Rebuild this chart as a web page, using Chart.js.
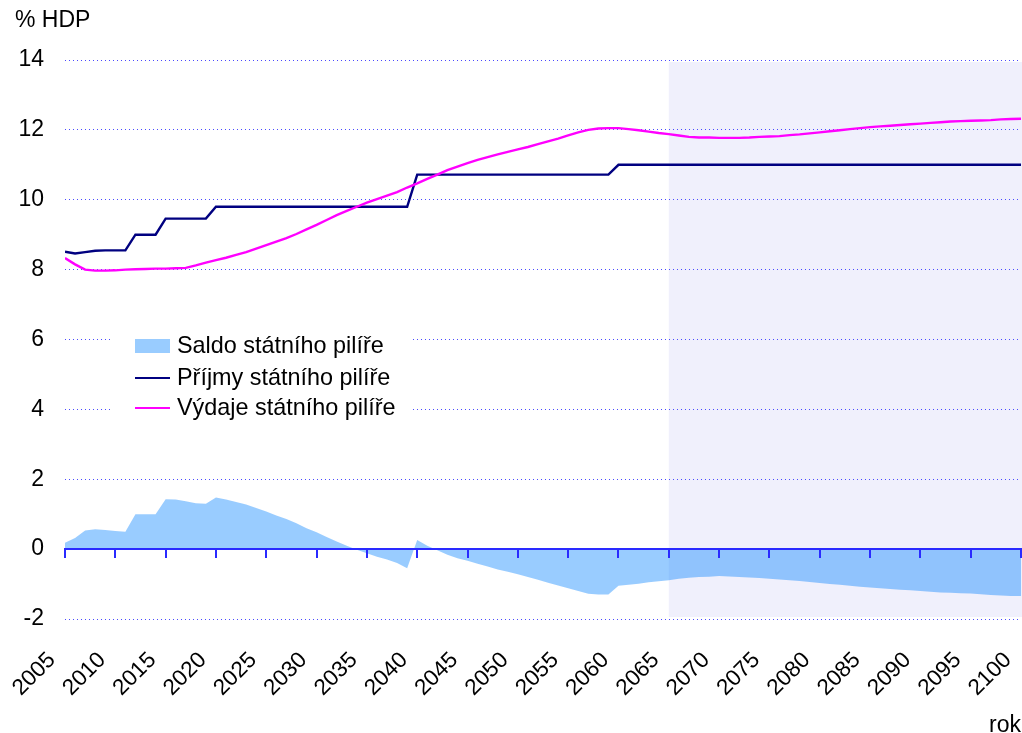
<!DOCTYPE html>
<html><head><meta charset="utf-8">
<script src="https://cdn.jsdelivr.net/npm/chart.js@4.4.0/dist/chart.umd.min.js"></script>
<style>html,body{margin:0;padding:0;background:#fff;overflow:hidden}canvas{display:block}</style>
</head><body>
<canvas id="c" width="1022" height="733"></canvas>
<script>
const years = [2005,2006,2007,2008,2009,2010,2011,2012,2013,2014,2015,2016,2017,2018,2019,2020,2021,2022,2023,2024,
2025,2026,2027,2028,2029,2030,2031,2032,2033,2034,2035,2036,2037,2038,2039,2040,2041,2042,2043,2044,
2045,2046,2047,2048,2049,2050,2051,2052,2053,2054,2055,2056,2057,2058,2059,2060,2061,2062,2063,2064,
2065,2066,2067,2068,2069,2070,2071,2072,2073,2074,2075,2076,2077,2078,2079,2080,2081,2082,2083,2084,
2085,2086,2087,2088,2089,2090,2091,2092,2093,2094,2095,2096,2097,2098,2099,2100];

const saldo = [0.18,0.32,0.53,0.57,0.55,0.52,0.5,1.0,1.0,1.0,
1.43,1.42,1.37,1.31,1.3,1.48,1.42,1.35,1.28,1.18,
1.08,0.96,0.86,0.74,0.6,0.48,0.35,0.22,0.1,-0.02,
-0.12,-0.22,-0.3,-0.4,-0.55,0.26,0.1,-0.03,-0.16,-0.26,
-0.33,-0.42,-0.5,-0.58,-0.65,-0.72,-0.8,-0.88,-0.96,-1.04,
-1.12,-1.2,-1.28,-1.3,-1.3,-1.05,-1.02,-0.99,-0.95,-0.92,
-0.89,-0.85,-0.82,-0.8,-0.79,-0.77,-0.78,-0.8,-0.81,-0.83,
-0.85,-0.87,-0.89,-0.91,-0.94,-0.97,-1.0,-1.02,-1.05,-1.08,
-1.1,-1.12,-1.14,-1.16,-1.18,-1.2,-1.22,-1.24,-1.25,-1.26,
-1.27,-1.29,-1.31,-1.33,-1.34,-1.34];

const prijmy = [8.51,8.46,8.5,8.54,8.55,8.55,8.55,9.0,9.0,9.0,
9.46,9.46,9.46,9.46,9.46,9.8,9.8,9.8,9.8,9.8,
9.8,9.8,9.8,9.8,9.8,9.8,9.8,9.8,9.8,9.8,
9.8,9.8,9.8,9.8,9.8,10.72,10.72,10.72,10.72,10.72,
10.72,10.72,10.72,10.72,10.72,10.72,10.72,10.72,10.72,10.72,
10.72,10.72,10.72,10.72,10.72,11.0,11.0,11.0,11.0,11.0,
11.0,11.0,11.0,11.0,11.0,11.0,11.0,11.0,11.0,11.0,
11.0,11.0,11.0,11.0,11.0,11.0,11.0,11.0,11.0,11.0,
11.0,11.0,11.0,11.0,11.0,11.0,11.0,11.0,11.0,11.0,
11.0,11.0,11.0,11.0,11.0,11.0];

const vydaje = [8.33,8.15,8.0,7.97,7.97,7.98,8.0,8.01,8.02,8.03,
8.03,8.04,8.05,8.12,8.2,8.27,8.34,8.42,8.5,8.6,
8.7,8.8,8.9,9.02,9.15,9.28,9.42,9.56,9.68,9.8,
9.92,10.02,10.12,10.22,10.35,10.47,10.6,10.72,10.85,10.95,
11.05,11.14,11.22,11.3,11.37,11.44,11.51,11.59,11.67,11.75,
11.84,11.93,12.0,12.04,12.05,12.05,12.02,11.99,11.95,11.91,
11.88,11.84,11.8,11.78,11.78,11.77,11.77,11.77,11.78,11.8,
11.81,11.82,11.85,11.87,11.9,11.93,11.96,11.99,12.02,12.05,
12.08,12.1,12.12,12.14,12.16,12.18,12.2,12.22,12.24,12.25,
12.26,12.27,12.28,12.3,12.31,12.32];

const seriesNames = ['Saldo státního pilíře', 'Příjmy státního pilíře', 'Výdaje státního pilíře'];
const yAxisTitle = '% HDP';
const xAxisTitle = 'rok';
const projectionYears = [2065, 2100];

const FONT = '"Liberation Sans", Arial, sans-serif';
const toXY = vals => years.map((yr, i) => ({x: yr, y: vals[i]}));

const bandPlugin = {
  id: 'band',
  beforeDraw(chart) {
    const {ctx, scales: {x, y}} = chart;
    const x1 = x.getPixelForValue(projectionYears[0]);
    const x2 = x.getPixelForValue(projectionYears[1]);
    const y1 = y.getPixelForValue(y.max) + 2;
    const y2 = y.getPixelForValue(y.min) - 2;
    ctx.save();
    ctx.fillStyle = '#f0f0fc';
    ctx.fillRect(x1, y1, x2 - x1 + 1, y2 - y1);
    ctx.restore();
  }
};

const legendPlugin = {
  id: 'innerLegend',
  afterDraw(chart) {
    const {ctx, chartArea} = chart;
    const ds = chart.data.datasets;
    const left = chartArea.left + 70;
    const top = chartArea.top;
    ctx.save();
    ctx.fillStyle = '#ffffff';
    ctx.fillRect(chartArea.left + 47, top + 266, 301, 98);
    ctx.font = '23.4px ' + FONT;
    ctx.textBaseline = 'middle';
    ctx.textAlign = 'left';
    const rowsY = [top + 286, top + 318, top + 348];
    ds.forEach((d, i) => {
      const cy = rowsY[i];
      if (i === 0) {
        ctx.fillStyle = '#99ccff';
        ctx.fillRect(left, cy - 7, 35, 14);
      } else {
        ctx.strokeStyle = d.borderColor;
        ctx.lineWidth = 2;
        ctx.beginPath();
        ctx.moveTo(left, cy);
        ctx.lineTo(left + 35, cy);
        ctx.stroke();
      }
      ctx.fillStyle = '#000';
      ctx.fillText(d.label, left + 42, cy + 1);
    });
    ctx.restore();
  }
};

new Chart(document.getElementById('c'), {
  type: 'line',
  data: {
    datasets: [
      {label: seriesNames[0], data: toXY(saldo), fill: 'origin', backgroundColor: 'rgba(0,128,255,0.4)', borderWidth: 0, pointRadius: 0, tension: 0, order: 3},
      {label: seriesNames[1], data: toXY(prijmy), fill: false, borderColor: '#000080', borderWidth: 2.4, pointRadius: 0, tension: 0, order: 2},
      {label: seriesNames[2], data: toXY(vydaje), fill: false, borderColor: '#ff00ff', borderWidth: 2.4, pointRadius: 0, tension: 0, order: 1}
    ]
  },
  options: {
    responsive: false,
    devicePixelRatio: 1,
    animation: false,
    layout: {padding: {left: 15, right: 1, top: 0, bottom: 0}},
    plugins: {
      legend: {display: false},
      tooltip: {enabled: false},
      title: {display: true, text: yAxisTitle, align: 'start', color: '#000', font: {family: FONT, size: 23, weight: 'normal'}, padding: {top: 7, bottom: 25.4}}
    },
    scales: {
      x: {
        type: 'linear', min: 2005, max: 2100,
        grid: {display: false},
        border: {display: false},
        ticks: {stepSize: 5, autoSkip: false, minRotation: 45, maxRotation: 45, padding: 20, labelOffset: -13, color: '#000', font: {family: FONT, size: 22.5}, callback: v => String(v)},
        title: {display: true, text: xAxisTitle, align: 'end', color: '#000', font: {family: FONT, size: 23}, padding: {top: 0, bottom: -6}},
        afterFit: s => { s.height = 114; s.paddingLeft = 0; s.paddingRight = 0; }
      },
      x0: {
        type: 'linear', axis: 'x', position: {y: 0}, min: 2005, max: 2100,
        ticks: {stepSize: 5, display: false, autoSkip: false},
        grid: {drawOnChartArea: false, drawTicks: true, tickLength: 8, color: '#2a2aff', lineWidth: 2, z: 1},
        border: {display: true, color: '#2a2aff', width: 2, z: 1},
        afterFit: s => { s.paddingLeft = 0; s.paddingRight = 0; }
      },
      y: {
        min: -2, max: 14,
        ticks: {stepSize: 2, padding: 21, color: '#000', font: {family: FONT, size: 23}},
        grid: {drawTicks: false, color: c => c.tick && c.tick.value === 0 ? 'rgba(0,0,0,0)' : '#4a4aff', lineWidth: 1},
        border: {display: false, dash: [1, 3]},
        afterFit: s => { s.width = 50; }
      }
    }
  },
  plugins: [bandPlugin, legendPlugin]
});
</script>
</body></html>
